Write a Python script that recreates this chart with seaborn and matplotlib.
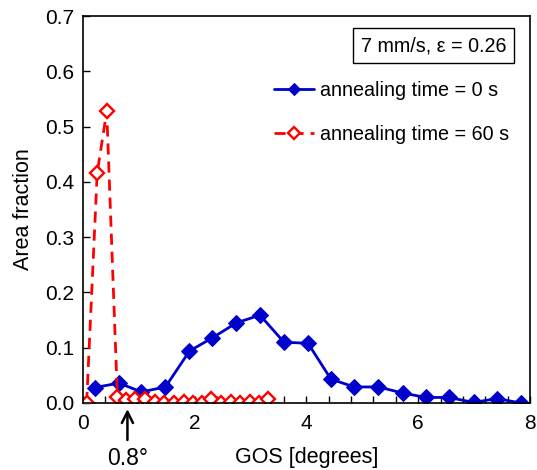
import numpy as np
import pandas as pd
import matplotlib
matplotlib.use("Agg")
import matplotlib.pyplot as plt
from matplotlib.ticker import MultipleLocator
import seaborn as sns

# GOS distribution, as-deformed (0 s annealing)
gos_0s = [0.22, 0.65, 1.05, 1.48, 1.91, 2.32, 2.75, 3.17, 3.60, 4.03,
          4.44, 4.86, 5.29, 5.72, 6.14, 6.55, 6.99, 7.41, 7.83]
frac_0s = [0.028, 0.036, 0.020, 0.029, 0.094, 0.118, 0.145, 0.159, 0.110, 0.108,
           0.043, 0.029, 0.029, 0.018, 0.010, 0.010, 0.001, 0.008, 0.0]

# GOS distribution after 60 s annealing
gos_60s = [0.07, 0.26, 0.43, 0.62, 0.78, 0.93, 1.11, 1.29, 1.46, 1.64,
           1.81, 1.97, 2.14, 2.30, 2.47, 2.65, 2.82, 2.99, 3.15, 3.32]
frac_60s = [0.0, 0.417, 0.528, 0.011, 0.005, 0.008, 0.008, 0.002, 0.0, 0.0,
            0.002, 0.0, 0.0, 0.008, 0.0, 0.002, 0.0, 0.002, 0.0, 0.008]

label_0s = "annealing time = 0 s"
label_60s = "annealing time = 60 s"
condition_text = "7 mm/s, \u03b5 = 0.26"
threshold = 0.8

sns.set_style("ticks")
plt.rcParams["font.family"] = ["Liberation Sans", "DejaVu Sans"]
plt.rcParams["text.color"] = "black"
plt.rcParams["axes.labelcolor"] = "black"

df0 = pd.DataFrame({"GOS": gos_0s, "frac": frac_0s})
df60 = pd.DataFrame({"GOS": gos_60s, "frac": frac_60s})

fig = plt.figure(figsize=(5.37, 4.70), dpi=100)
ax = fig.add_axes([0.154, 0.1426, 0.833, 0.823])

sns.lineplot(data=df0, x="GOS", y="frac", ax=ax, color="#0000CC",
             linewidth=2, marker="D", markersize=8, markeredgecolor="#0000CC",
             label=label_0s, sort=False)
sns.lineplot(data=df60, x="GOS", y="frac", ax=ax, color="#FF0000",
             linewidth=2, marker="D", markersize=7.5,
             markerfacecolor="white", markeredgecolor="#FF0000",
             markeredgewidth=1.7, label=label_60s, sort=False)
ax.lines[-1].set_dashes((4, 2.5))

ax.set_xlim(0, 8)
ax.set_ylim(0, 0.7)
ax.xaxis.set_major_locator(MultipleLocator(2))
ax.xaxis.set_minor_locator(MultipleLocator(0.4))
ax.set_yticks(np.arange(0, 0.71, 0.1))
ax.set_yticklabels([f"{v:.1f}" for v in np.arange(0, 0.71, 0.1)])
ax.tick_params(which="both", direction="in", length=5, width=1, labelsize=15,
               top=False, right=False, colors="black")
ax.tick_params(axis="x", pad=8)
ax.tick_params(axis="y", pad=6)
for s in ax.spines.values():
    s.set_color("black")
    s.set_linewidth(1.2)

ax.set_xlabel("GOS [degrees]", fontsize=15.5, labelpad=10, color="black")
ax.set_ylabel("Area fraction", fontsize=15.5, labelpad=8, color="black")

# threshold marker below the axis
ax.annotate("", xy=(threshold, -0.006), xytext=(threshold, -0.072),
            xycoords="data", textcoords="data", annotation_clip=False,
            arrowprops=dict(arrowstyle="->", color="black", lw=1.8,
                            mutation_scale=20))
ax.text(threshold, -0.080, f"{threshold}\u00b0", ha="center", va="top",
        fontsize=16.5, color="black", transform=ax.transData, clip_on=False)

ax.text(0.784, 0.924, condition_text, transform=ax.transAxes, ha="center",
        va="center", fontsize=14.2, color="black",
        bbox=dict(boxstyle="square,pad=0.4", facecolor="white",
                  edgecolor="black", linewidth=1))

leg = ax.legend(loc="center left", bbox_to_anchor=(0.427, 0.751),
                frameon=False, fontsize=14.2, handlelength=2.05,
                handletextpad=0.3, labelspacing=1.3, borderpad=0,
                borderaxespad=0, markerscale=0.75)
for t in leg.get_texts():
    t.set_color("black")

fig.savefig("out.png", dpi=100)
